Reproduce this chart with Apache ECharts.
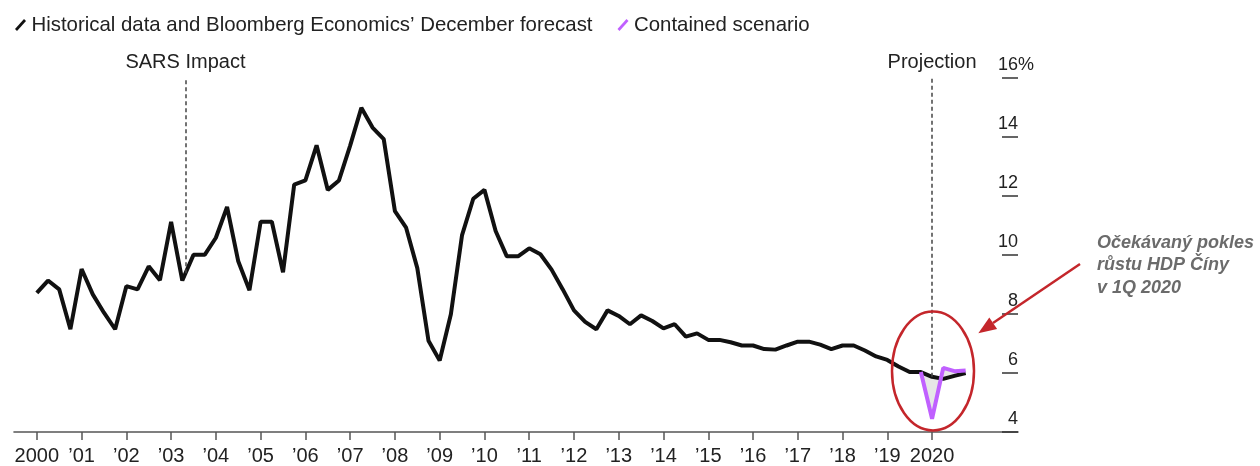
<!DOCTYPE html>
<html><head><meta charset="utf-8">
<script src="https://cdn.jsdelivr.net/npm/echarts@6/dist/echarts.min.js"></script>
<style>html,body{margin:0;padding:0;background:#fff}#c{width:1260px;height:466px}</style>
</head><body><div id="c"></div>
<script>
// ---- data ----
const startYear = 2000; // first quarter shown: 2000 Q1, quarterly steps
const historical = [
  8.71, 9.13, 8.83, 7.48,
  9.52, 8.66, 8.04, 7.48,
  8.94, 8.83, 9.61, 9.14,
  11.12, 9.13, 10.0, 10.0,
  10.58, 11.62, 9.78, 8.8,
  11.12, 11.12, 9.41, 12.38,
  12.52, 13.71, 12.2, 12.52,
  13.7, 14.98, 14.31, 13.92,
  11.48, 10.92, 9.55, 7.09,
  6.42, 7.99, 10.67, 11.9,
  12.2, 10.81, 9.95, 9.95,
  10.22, 10.02, 9.5, 8.83,
  8.12, 7.73, 7.48, 8.12,
  7.93, 7.65, 7.95, 7.76,
  7.51, 7.65, 7.23, 7.34,
  7.12, 7.12, 7.04, 6.93,
  6.93, 6.81, 6.79, 6.93,
  7.06, 7.06, 6.96, 6.81,
  6.93, 6.93, 6.76, 6.56,
  6.44, 6.22, 6.03, 6.03
];
const forecast = [5.87, 5.8, 5.9, 6.0];          // 2020 Q1..Q4 (December forecast)
const containedStart = 2019.75;                  // 2019 Q4
const contained = [6.03, 4.45, 6.17, 6.06, 6.08]; // 2019 Q4 .. 2020 Q4
const xTickYears = [2000,2001,2002,2003,2004,2005,2006,2007,2008,2009,2010,2011,2012,2013,2014,2015,2016,2017,2018,2019,2020];
const xTickLabels = ['2000','\u201901','\u201902','\u201903','\u201904','\u201905','\u201906','\u201907','\u201908','\u201909','\u201910','\u201911','\u201912','\u201913','\u201914','\u201915','\u201916','\u201917','\u201918','\u201919','2020'];
const yTicks = [4,6,8,10,12,14,16];
const eventNames = ['SARS Impact', 'Projection'];
const eventYears = [2003.32, 2020];
const seriesNames = ['Historical data and Bloomberg Economics\u2019 December forecast', 'Contained scenario'];
const noteLines = ['Očekávaný pokles', 'růstu HDP Číny', 'v 1Q 2020'];

// ---- build ----
const FONT = '"Liberation Sans", Arial, Helvetica, sans-serif';
const blackVals = historical.concat(forecast);
const blackData = blackVals.map((v, i) => [startYear + i / 4, v]);
const purpleData = contained.map((v, i) => [containedStart + i / 4, v]);
const offset = Math.round((containedStart - startYear) * 4);
const blackSub = contained.map((v, i) => blackData[offset + i]);
function interp(x) {
  for (let i = 0; i < blackData.length - 1; i++) {
    const a = blackData[i], b = blackData[i + 1];
    if (x >= a[0] && x <= b[0]) return a[1] + (b[1] - a[1]) * (x - a[0]) / (b[0] - a[0]);
  }
  return blackData[blackData.length - 1][1];
}
const slash = 'path://M0,10 L9,0 L11,2 L2,12 Z';
const yMin = yTicks[0], yMax = yTicks[yTicks.length - 1];

const chart = echarts.init(document.getElementById('c'), null, {renderer: 'canvas'});
chart.setOption({
  animation: false,
  backgroundColor: '#fff',
  textStyle: {fontFamily: FONT},
  grid: {left: 14, right: 242, top: 77.7, bottom: 30.5, containLabel: false},
  legend: {
    left: 10, top: 10, itemWidth: 12, itemHeight: 12, itemGap: 25,
    textStyle: {fontSize: 20.4, color: '#222', fontFamily: FONT},
    data: [
      {name: seriesNames[0], icon: slash, itemStyle: {color: '#111'}},
      {name: seriesNames[1], icon: slash, itemStyle: {color: '#c060ff'}}
    ],
    selectedMode: false
  },
  xAxis: {
    type: 'value', min: 1999.49, max: 2021.92,
    splitLine: {show: false},
    axisLine: {show: true, lineStyle: {color: '#555', width: 1.6}},
    axisTick: {show: true, customValues: xTickYears, length: 8, lineStyle: {color: '#555', width: 1.5}},
    axisLabel: {
      customValues: xTickYears, margin: 14, fontSize: 20, color: '#222', fontFamily: FONT,
      formatter: v => xTickLabels[xTickYears.indexOf(Math.round(v))] || ''
    }
  },
  yAxis: {
    type: 'value', position: 'right', min: yMin, max: yMax,
    splitLine: {show: false},
    axisLine: {show: false},
    axisTick: {show: true, inside: true, customValues: yTicks, length: 16, lineStyle: {color: '#333', width: 1.5}},
    axisLabel: {
      customValues: yTicks, inside: true, margin: 0, align: 'right', verticalAlign: 'bottom',
      padding: [0, 0, 4, 0], fontSize: 18, color: '#222', fontFamily: FONT,
      formatter: v => v === yMax ? '{n|' + v + '}{p|%}' : '{n|' + v + '}',
      rich: {
        n: {fontSize: 18, color: '#222', fontFamily: FONT, align: 'left'},
        p: {fontSize: 18, color: '#222', fontFamily: FONT, align: 'left', width: 0.01}
      }
    }
  },
  series: [
    {type: 'custom', name: 'gap', silent: true, z: 1, data: purpleData,
     renderItem: function (params, api) {
       if (params.dataIndex !== 0) return null;
       const pts = purpleData.map(d => api.coord(d)).concat(blackSub.slice().reverse().map(d => api.coord(d)));
       return {type: 'polygon', shape: {points: pts}, style: {fill: '#e6e6e6'}};
     }},
    {type: 'line', name: seriesNames[0], data: blackData, symbol: 'none', z: 3,
     lineStyle: {color: '#111', width: 4}, itemStyle: {color: '#111'},
     markLine: {
       silent: true, symbol: ['none', 'none'],
       lineStyle: {type: [4, 3], color: '#444', width: 1.5},
       label: {position: 'end', distance: 5, fontSize: 20, color: '#222', fontFamily: FONT, formatter: '{b}'},
       data: eventYears.map((x, i) => [
         {name: eventNames[i], coord: [x, interp(x)]},
         {coord: [x, yMax]}
       ])
     }},
    {type: 'line', name: seriesNames[1], data: purpleData, symbol: 'none', z: 4,
     lineStyle: {color: '#c060ff', width: 4}, itemStyle: {color: '#c060ff'}}
  ],
  graphic: [
    {type: 'ellipse', shape: {cx: 933, cy: 371, rx: 41, ry: 59.5}, silent: true, z: 10,
     style: {fill: 'none', stroke: '#c4262b', lineWidth: 2.5}},
    {type: 'line', shape: {x1: 1080, y1: 264, x2: 993, y2: 323}, silent: true, z: 10,
     style: {stroke: '#c4262b', lineWidth: 2.5}},
    {type: 'polygon', shape: {points: [[978.3, 333.3], [997.1, 329.0], [989.3, 317.4]]}, silent: true, z: 10,
     style: {fill: '#c4262b'}},
    {type: 'text', left: 1097, top: 232, silent: true, z: 10,
     style: {text: noteLines.join('\n'), font: 'italic bold 18px ' + FONT, fill: '#6b6b6b', lineHeight: 22.3}}
  ]
});
</script></body></html>
